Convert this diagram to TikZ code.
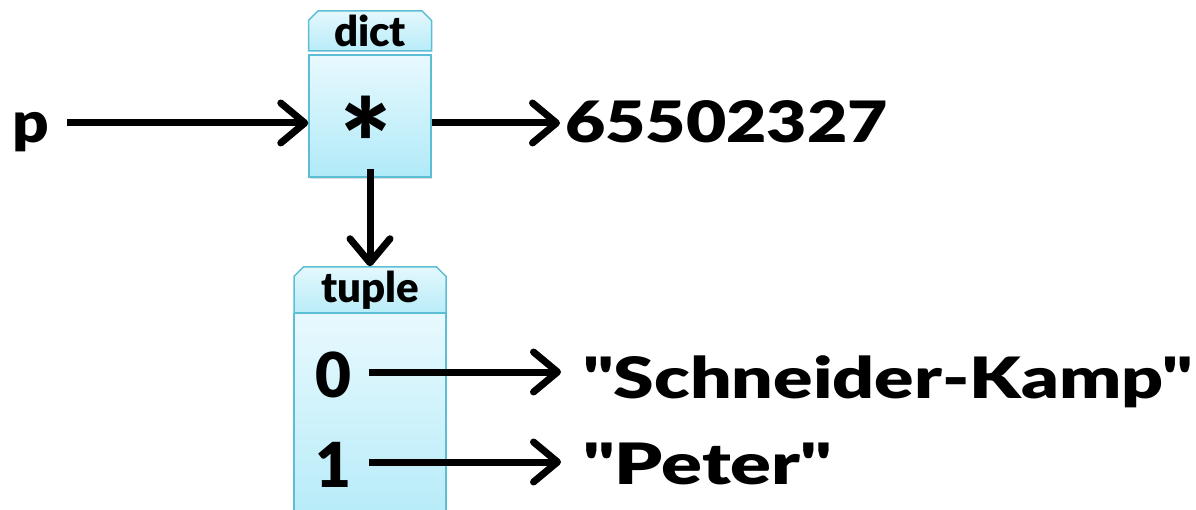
\documentclass[tikz,border=0pt]{standalone}
\usepackage{fontspec}
\setmainfont{Lato}[Ligatures=TeXOff, BoldFont={Lato Black}]
\usetikzlibrary{arrows.meta,shapes.misc,shadows}
\definecolor{boxedge}{RGB}{92,190,212}
\definecolor{boxtop}{RGB}{232,249,254}
\definecolor{boxbot}{RGB}{176,234,248}
\definecolor{hdrtop}{RGB}{228,248,253}
\definecolor{hdrbot}{RGB}{184,236,248}
\newcommand{\widetext}[2]{\scalebox{#1}[1]{#2}}
\begin{document}
\begin{tikzpicture}[x=1pt,y=-1pt,
  hdr/.style={chamfered rectangle, chamfered rectangle corners={north west,north east},
    chamfered rectangle xsep=6pt, draw=boxedge, line width=1.5pt,
    top color=hdrtop, bottom color=hdrbot, inner sep=0pt,
    font=\bfseries\fontsize{42}{42}\selectfont},
  body/.style={draw=boxedge, line width=1.5pt, top color=boxtop, bottom color=boxbot,
    inner sep=0pt, drop shadow={opacity=0.25, shadow xshift=1pt, shadow yshift=-2pt}},
  big/.style={inner sep=0pt, font=\bfseries\fontsize{57}{57}\selectfont},
  key/.style={inner sep=0pt, font=\bfseries\fontsize{62}{62}\selectfont},
  arr/.style={line width=7pt, -{Straight Barb[length=24pt,width=40pt,round]}}]
\clip (0,0) rectangle (1196,510);
% dict
\node[body, minimum width=122pt, minimum height=122pt] (dictbody) at (370,116) {};
\node[hdr, minimum width=123pt, minimum height=40pt] (dicthead) at (370,31) {dict};
\node[big, font=\bfseries\fontsize{120}{120}\selectfont] (star) at (366,142) {*};
% tuple
\node[body, minimum width=152pt, minimum height=230pt, anchor=north] (tuplebody) at (370,313) {};
\node[hdr, minimum width=152pt, minimum height=46pt] (tuplehead) at (370,290) {tuple};
\node[key] (k0) at (333,375) {0};
\node[key] (k1) at (333,465) {1};
% labels
\node[big, anchor=base west] (p) at (12,143) {\widetext{1.12}{p}};
\node[big, anchor=base west] (num) at (565,143) {\widetext{1.22}{65502327}};
\node[big, anchor=base west] (sk) at (583,398) {\widetext{1.285}{"Schneider-Kamp"}};
\node[big, anchor=base west] (peter) at (583,484) {\widetext{1.33}{"Peter"}};
% connectors
\coordinate (dictin) at ([yshift=-7pt]dictbody.west);
\coordinate (dictout) at ([yshift=-7pt]dictbody.east);
\draw[arr] (p.east |- dictin) ++(18,0) -- (dictin);
\draw[arr] (dictout) -- ([xshift=-5pt]num.west |- dictout);
\draw[arr] ([yshift=9pt]dictbody.south) -- (tuplehead.north);
\draw[arr] ([xshift=18pt]k0.east |- 0,372) -- ([xshift=-22pt]sk.west |- 0,372);
\draw[arr] ([xshift=18pt]k1.east |- 0,462) -- ([xshift=-22pt]peter.west |- 0,462);
\end{tikzpicture}
\end{document}
